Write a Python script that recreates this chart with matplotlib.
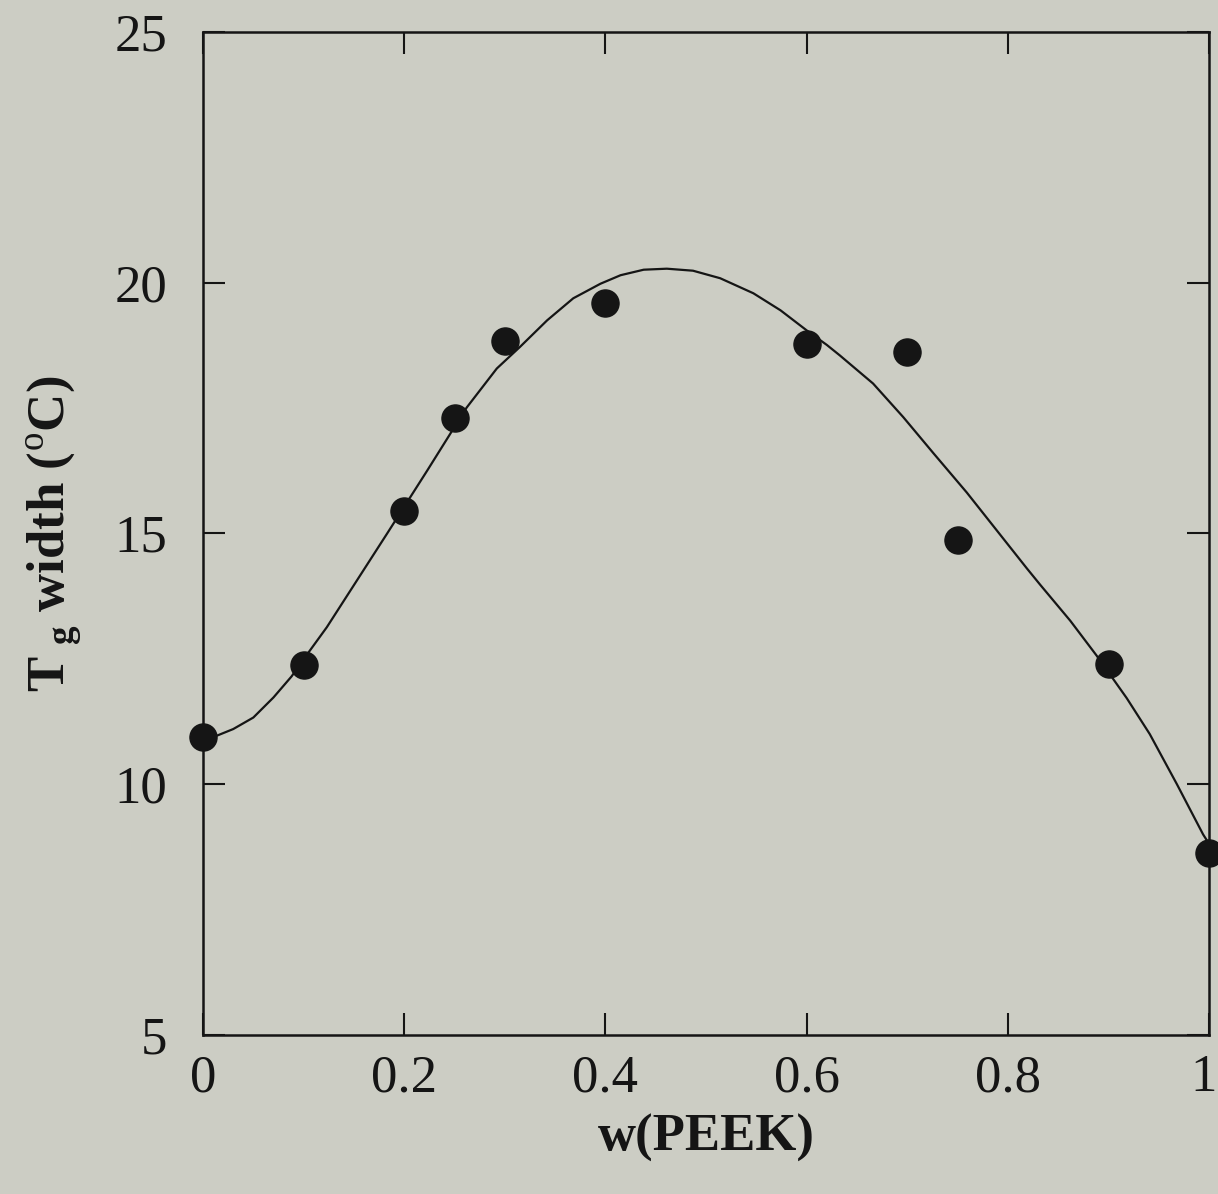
import numpy as np
import matplotlib.pyplot as plt
from matplotlib.transforms import ScaledTranslation

# measured Tg width vs PEEK weight fraction
w_peek = [0.0, 0.1, 0.2, 0.25, 0.3, 0.4, 0.6, 0.7, 0.75, 0.9, 1.0]
tg_width = [10.95, 12.37, 15.44, 17.3, 18.83, 19.59, 18.77, 18.61, 14.86, 12.39, 8.63]

fit_w = [0.0, 0.014, 0.030, 0.050, 0.070, 0.088, 0.106, 0.123, 0.140, 0.183,
         0.223, 0.262, 0.292, 0.315, 0.342, 0.368, 0.395, 0.415, 0.438, 0.461,
         0.487, 0.514, 0.547, 0.574, 0.600, 0.620, 0.633, 0.666, 0.696, 0.726,
         0.759, 0.789, 0.819, 0.832, 0.862, 0.888, 0.918, 0.941, 0.968, 0.994, 1.0]
fit_tg = [10.9, 10.97, 11.1, 11.33, 11.73, 12.15, 12.66, 13.13, 13.66, 15.0,
          16.26, 17.51, 18.29, 18.72, 19.25, 19.69, 19.98, 20.15, 20.26, 20.28,
          20.24, 20.09, 19.79, 19.45, 19.05, 18.76, 18.55, 17.99, 17.32, 16.6,
          15.82, 15.06, 14.3, 13.98, 13.26, 12.57, 11.72, 11.0, 10.0, 9.0, 8.81]

xticks = [0, 0.2, 0.4, 0.6, 0.8, 1.0]
xticklabels = ['0', '0.2', '0.4', '0.6', '0.8', '1']
yticks = [5, 10, 15, 20, 25]

bg = '#cccdc4'
ink = '#151515'

plt.rcParams['font.family'] = ['Liberation Serif', 'DejaVu Serif']
plt.rcParams['mathtext.fontset'] = 'custom'
plt.rcParams['mathtext.rm'] = 'Liberation Serif'
plt.rcParams['mathtext.bf'] = 'Liberation Serif:bold'

fig = plt.figure(figsize=(12.18, 11.94), dpi=100, facecolor=bg)
ax = fig.add_axes([0.1667, 0.1332, 0.826, 0.840], facecolor=bg)

ax.plot(fit_w, fit_tg, color=ink, lw=1.6, solid_joinstyle='round', clip_on=False)
ax.plot(w_peek, tg_width, 'o', color=ink, ms=19.5, clip_on=False, zorder=5)

ax.set_xlim(0, 1)
ax.set_ylim(5, 25)
ax.set_xticks(xticks)
ax.set_xticklabels(xticklabels)
ax.set_yticks(yticks)

for s in ax.spines.values():
    s.set_linewidth(1.8)
    s.set_color(ink)

ax.tick_params(direction='in', length=16, width=1.5, colors=ink,
               top=True, right=True, labelsize=38)
ax.tick_params(axis='x', pad=14)
ax.tick_params(axis='y', pad=26)

# nudge the "1" so it stays inside the figure
last = ax.get_xticklabels()[-1]
last.set_transform(last.get_transform() + ScaledTranslation(-6 / 100, 0, fig.dpi_scale_trans))

ax.set_xlabel('w(PEEK)', fontsize=38, fontweight='bold', color=ink, labelpad=8)
ax.set_ylabel(r'$\mathbf{T}_{\mathbf{\ g}}$ width ($^{\mathrm{o}}$C)',
              fontsize=38, fontweight='bold', color=ink, labelpad=22)

fig.savefig('out.png', dpi=100, facecolor=bg)
